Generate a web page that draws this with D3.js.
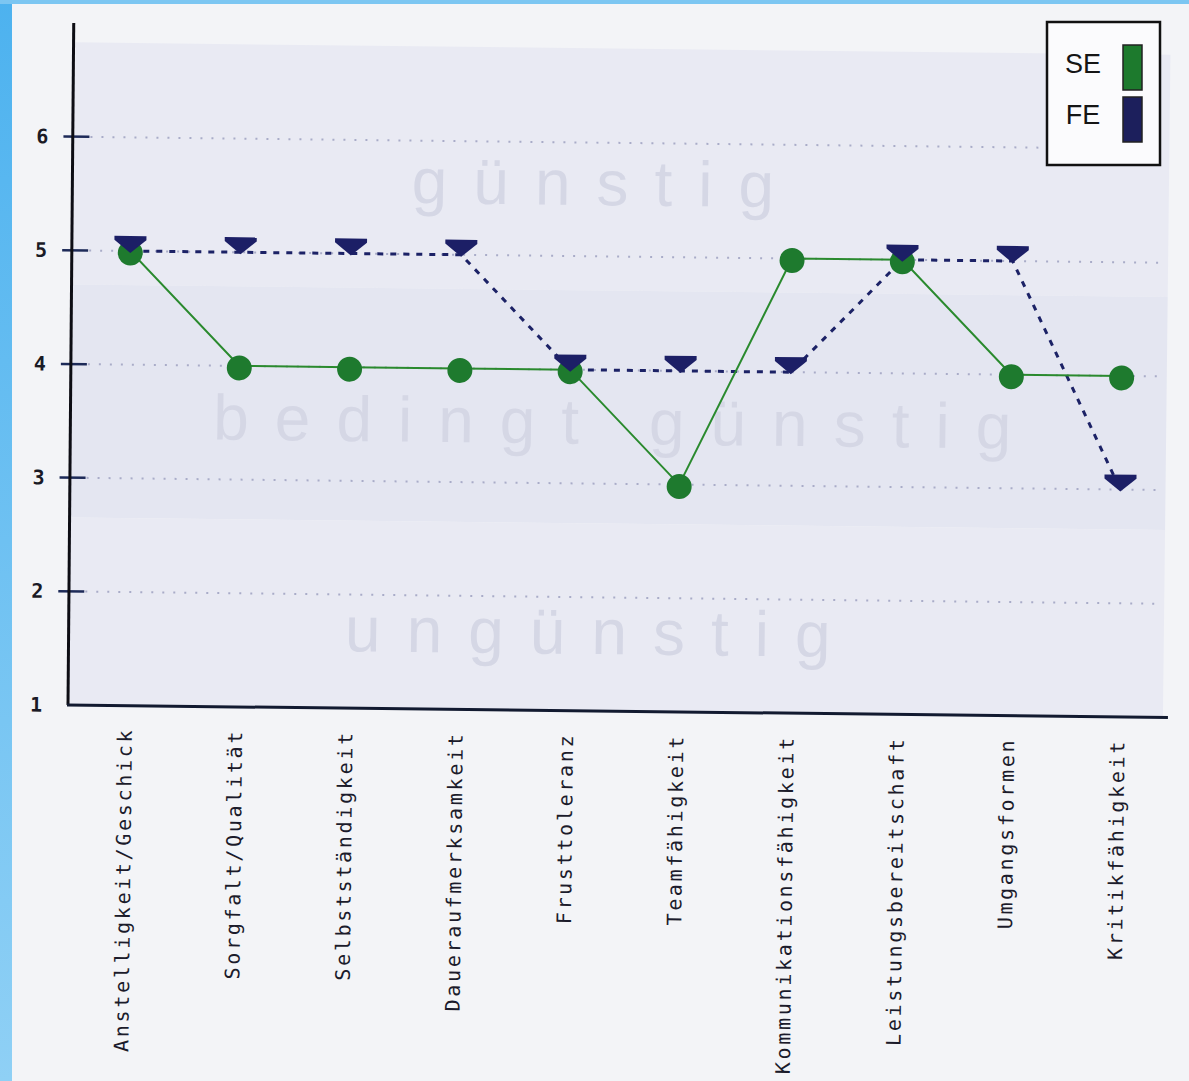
<!DOCTYPE html>
<html>
<head>
<meta charset="utf-8">
<script src="https://cdn.jsdelivr.net/npm/d3@7"></script>
<style>
  html, body { margin: 0; padding: 0; background: #f3f4f7; }
  svg { display: block; }
</style>
</head>
<body>
<script>
// categories and the two series (SE = Selbsteinschätzung, FE = Fremdeinschätzung)
var categories = ["Anstelligkeit/Geschick", "Sorgfalt/Qualität", "Selbstständigkeit",
  "Daueraufmerksamkeit", "Frusttoleranz", "Teamfähigkeit", "Kommunikationsfähigkeit",
  "Leistungsbereitschaft", "Umgangsformen", "Kritikfähigkeit"];
var seValues = [5, 4, 4, 4, 4, 3, 5, 5, 4, 4];
var feValues = [5, 5, 5, 5, 4, 4, 4, 5, 5, 3];
var yTicks = [1, 2, 3, 4, 5, 6];
var zoneLabels = ["günstig", "bedingt günstig", "ungünstig"];
var zoneBounds = [[4.7, 6.83], [2.65, 4.7], [1, 2.65]];
var legendItems = ["SE", "FE"];

window.onload = drawChart();

function drawChart(){
  var width = 1189,
      height = 1081;

  // where the big watermark words sit (value level, x centre)
  var zoneTextY = [5.45, 3.35, 1.5],
      zoneTextX = [600, 622, 600];

  var svg = d3.select("body")
    .append("svg")
    .attr("width", width)
    .attr("height", height);

  // scanner border (blue strips)
  var grad = svg.append("defs").append("linearGradient")
    .attr("id", "edge").attr("x1", 0).attr("y1", 0).attr("x2", 0).attr("y2", 1);
  grad.append("stop").attr("offset", "0%").attr("stop-color", "#4db2ef");
  grad.append("stop").attr("offset", "100%").attr("stop-color", "#8fd0f5");
  svg.append("rect").attr("x", 0).attr("y", 0).attr("width", 12).attr("height", height).attr("fill", "url(#edge)");
  svg.append("rect").attr("x", 0).attr("y", 0).attr("width", width).attr("height", 4).attr("fill", "#7cc6f2");

  var x = d3.scalePoint()
    .domain(categories)
    .range([70, 1173])
    .padding(0.5);

  var y = d3.scaleLinear()
    .domain([1, 7])
    .range([705, 23]);

  // scan is slightly tilted
  var g = svg.append("g")
    .attr("transform", "rotate(0.65, 68, 705)");

  // shaded zones
  g.selectAll(".zone")
    .data(zoneBounds)
    .enter()
    .append("rect")
    .attr("class", "zone")
    .attr("x", 68)
    .attr("y", function(d){ return y(d[1]); })
    .attr("width", 1095)
    .attr("height", function(d){ return y(d[0]) - y(d[1]); })
    .attr("fill", function(d, i){ return i == 1 ? "#e4e6f1" : "#e9eaf3"; });

  g.selectAll(".zoneLabel")
    .data(zoneLabels)
    .enter()
    .append("text")
    .attr("class", "zoneLabel")
    .attr("x", function(d, i){ return zoneTextX[i]; })
    .attr("y", function(d, i){ return y(zoneTextY[i]); })
    .attr("text-anchor", "middle")
    .style("font-family", "'Liberation Sans', Arial, sans-serif")
    .style("font-size", "64px")
    .style("letter-spacing", "26px")
    .attr("fill", "#d5d7e5")
    .text(function(d){ return d; });

  // gridlines
  g.selectAll(".grid")
    .data(yTicks.filter(function(d){ return d > 1; }))
    .enter()
    .append("line")
    .attr("class", "grid")
    .attr("x1", 84).attr("x2", 1160)
    .attr("y1", function(d){ return y(d); })
    .attr("y2", function(d){ return y(d); })
    .attr("stroke", "#a9acc8")
    .attr("stroke-width", 2)
    .attr("stroke-dasharray", "2,9");

  // y axis
  var yAxis = d3.axisLeft(y)
    .tickValues(yTicks)
    .tickSize(0)
    .tickPadding(26)
    .tickFormat(d3.format("d"));

  var ya = g.append("g")
    .attr("transform", "translate(68,0)")
    .call(yAxis);
  ya.select(".domain").remove();
  ya.selectAll("text")
    .style("font-family", "'DejaVu Sans Mono', monospace")
    .style("font-size", "20px")
    .style("font-weight", "bold")
    .attr("fill", "#1a1a26");

  g.selectAll(".tickMark")
    .data(yTicks.filter(function(d){ return d > 1; }))
    .enter()
    .append("line")
    .attr("x1", 57).attr("x2", 83)
    .attr("y1", function(d){ return y(d); })
    .attr("y2", function(d){ return y(d); })
    .attr("stroke", "#1d2a58")
    .attr("stroke-width", 2.5);

  g.append("line")
    .attr("x1", 66).attr("x2", 68)
    .attr("y1", y(7)).attr("y2", y(1))
    .attr("stroke", "#0d0d14")
    .attr("stroke-width", 3);

  g.append("line")
    .attr("x1", 67).attr("x2", 1168)
    .attr("y1", y(1)).attr("y2", y(1))
    .attr("stroke", "#121a30")
    .attr("stroke-width", 3);

  // x labels
  g.selectAll(".xLabel")
    .data(categories)
    .enter()
    .append("text")
    .attr("class", "xLabel")
    .attr("transform", function(d){ return "translate(" + x(d) + ",727) rotate(-90)"; })
    .attr("dy", "0.35em")
    .attr("text-anchor", "end")
    .style("font-family", "'DejaVu Sans Mono', monospace")
    .style("font-size", "20px")
    .style("letter-spacing", "2.7px")
    .attr("fill", "#1b1b2b")
    .text(function(d){ return d; });

  var line = d3.line()
    .x(function(d, i){ return x(categories[i]); })
    .y(function(d){ return y(d); });

  // FE line
  g.append("path")
    .datum(feValues)
    .attr("d", line)
    .attr("fill", "none")
    .attr("stroke", "#1c2266")
    .attr("stroke-width", 3)
    .attr("stroke-dasharray", "6,7");

  // SE line
  g.append("path")
    .datum(seValues)
    .attr("d", line)
    .attr("fill", "none")
    .attr("stroke", "#2a8a2e")
    .attr("stroke-width", 2);

  g.selectAll(".seDot")
    .data(seValues)
    .enter()
    .append("circle")
    .attr("class", "seDot")
    .attr("cx", function(d, i){ return x(categories[i]); })
    .attr("cy", function(d){ return y(d) + 2; })
    .attr("r", 12.5)
    .attr("fill", "#1e7a2e");

  g.selectAll(".feMark")
    .data(feValues)
    .enter()
    .append("path")
    .attr("class", "feMark")
    .attr("d", function(d, i){
      var cx = x(categories[i]), cy = y(d);
      return "M" + (cx - 16) + "," + (cy - 15) + "L" + (cx + 16) + "," + (cy - 15) +
             "L" + (cx + 16) + "," + (cy - 11) + "L" + cx + "," + (cy + 2) +
             "L" + (cx - 16) + "," + (cy - 11) + "Z";
    })
    .attr("fill", "#1c1f66");

  // legend
  var legend = svg.append("g");
  legend.append("rect")
    .attr("x", 1047).attr("y", 22)
    .attr("width", 113).attr("height", 143)
    .attr("fill", "#fbfbfd")
    .attr("stroke", "#111")
    .attr("stroke-width", 2.5);

  legend.selectAll(".legText")
    .data(legendItems)
    .enter()
    .append("text")
    .attr("x", 1083)
    .attr("y", function(d, i){ return 73 + i * 51; })
    .attr("text-anchor", "middle")
    .style("font-family", "'Liberation Sans', Arial, sans-serif")
    .style("font-size", "27px")
    .attr("fill", "#151515")
    .text(function(d){ return d; });

  legend.selectAll(".legSwatch")
    .data(legendItems)
    .enter()
    .append("rect")
    .attr("x", 1123)
    .attr("y", function(d, i){ return 45 + i * 52; })
    .attr("width", 19).attr("height", 45)
    .attr("fill", function(d, i){ return i == 0 ? "#1d7a2d" : "#1c1f5c"; })
    .attr("stroke", "#222")
    .attr("stroke-width", 1.5);
}
</script>
</body>
</html>
